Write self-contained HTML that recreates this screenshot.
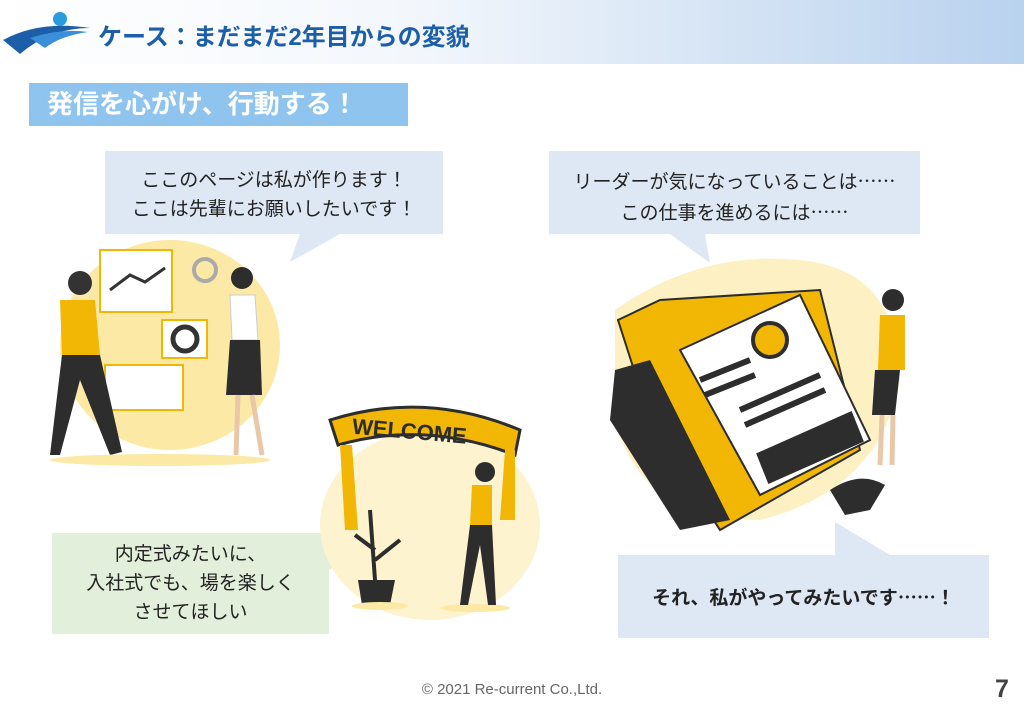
<!DOCTYPE html>
<html><head><meta charset="utf-8"><style>
body{margin:0;width:1024px;height:709px;background:#fff;position:relative;overflow:hidden;font-family:"Liberation Sans","Noto Sans CJK JP",sans-serif}
.hdr{position:absolute;left:0;top:0;width:1024px;height:64px;background:linear-gradient(90deg,#fff 0%,#f3f7fc 40%,#b9d2ee 100%)}
.t{position:absolute;left:98px;top:17px;font-size:24px;font-weight:bold;color:#1d5ea8;white-space:nowrap}
.sub{position:absolute;left:29px;top:83px;width:379px;height:43px;background:#8ec4ee;color:#fff;font-size:26px;font-weight:bold;line-height:43px;padding-left:18px;box-sizing:border-box}
.b{position:absolute;text-align:center;font-size:19px;line-height:29px;color:#222}
.e{font-family:"Noto Sans CJK JP",sans-serif}
.ft{position:absolute;top:681px;left:0;width:1024px;text-align:center;font-size:15px;color:#666}
.pg{position:absolute;left:995px;top:675px;font-size:25px;font-weight:bold;color:#444}
</style></head><body>
<div class="hdr"></div>
<svg style="position:absolute;left:0;top:10px" width="95" height="45"><circle cx="60" cy="9" r="7" fill="#2a9be0"/><path d="M3 30 Q40 10 90 18 Q50 18 20 44 Z" fill="#1d5ea8"/><path d="M30 28 Q60 18 88 22 Q60 26 45 38Z" fill="#3b8fd8"/></svg>
<div class="t">ケース：まだまだ2年目からの変貌</div>
<div class="sub">発信を心がけ、行動する！</div>
<svg style="position:absolute;left:0;top:0" width="1024" height="709">
<g fill="#dde8f4"><rect x="105" y="151" width="338" height="83"/><path d="M300 234 L290 262 L340 234Z"/><rect x="549" y="151" width="371" height="83"/><path d="M670 234 L710 263 L705 234Z"/><rect x="618" y="555" width="371" height="83"/><path d="M835 555 L835 522 L890 555Z"/></g>
<g fill="#e2efda"><rect x="52" y="533" width="277" height="101"/><path d="M329 545 L378 540 L329 570Z"/></g>
<ellipse cx="170" cy="345" rx="110" ry="105" fill="#fde9a6"/>
<rect x="100" y="250" width="72" height="62" fill="#fff" stroke="#f2b705" stroke-width="2"/>
<rect x="162" y="320" width="45" height="38" fill="#fff" stroke="#f2b705" stroke-width="2"/><circle cx="185" cy="339" r="12" fill="none" stroke="#333" stroke-width="5"/>
<rect x="105" y="365" width="78" height="45" fill="#fff" stroke="#f2b705" stroke-width="2"/>
<path d="M110 290 L130 275 L145 282 L165 268" stroke="#333" stroke-width="3" fill="none"/>
<circle cx="205" cy="270" r="11" fill="none" stroke="#aaa" stroke-width="4"/><circle cx="215" cy="395" r="18" fill="none" stroke="#fde9a6" stroke-width="8"/>
<path d="M60 300 L95 300 L100 355 L62 355Z" fill="#f2b705"/><circle cx="80" cy="283" r="12" fill="#333"/>
<path d="M62 355 L50 455 L60 455 L80 380 L110 455 L122 452 L100 355Z" fill="#2d2d2d"/>
<ellipse cx="160" cy="460" rx="110" ry="6" fill="#fde9a6"/>
<circle cx="242" cy="278" r="11" fill="#2d2d2d"/><path d="M230 295 L255 295 L258 340 L232 340Z" fill="#fff" stroke="#ccc"/><path d="M230 340 L260 340 L262 395 L226 395Z" fill="#2d2d2d"/><path d="M238 395 L236 455 M252 395 L262 455" stroke="#e8c8a8" stroke-width="5"/>
<ellipse cx="430" cy="525" rx="110" ry="95" fill="#fdf3cf"/>
<path d="M330 420 Q425 390 520 430 L515 455 Q425 420 338 445Z" fill="#f2b705" stroke="#2d2d2d" stroke-width="3"/>
<text x="352" y="440" font-size="22" font-weight="bold" fill="#2d2d2d" transform="rotate(5 425 432)" font-family="Liberation Sans,sans-serif">WELCOME</text>
<path d="M340 445 L345 530 L358 530 L352 445Z M505 450 L500 520 L515 520 L515 450Z" fill="#f2b705"/>
<path d="M358 580 L395 580 L390 605 L362 605Z" fill="#2d2d2d"/><path d="M375 580 L370 510 M375 560 L400 540 M375 550 L355 535" stroke="#2d2d2d" stroke-width="4"/>
<ellipse cx="380" cy="606" rx="28" ry="4" fill="#fde9a6"/><ellipse cx="475" cy="608" rx="35" ry="4" fill="#fde9a6"/>
<circle cx="485" cy="472" r="10" fill="#2d2d2d"/><path d="M472 485 L492 485 L492 525 L470 525Z" fill="#f2b705"/><path d="M470 525 L460 605 L468 605 L480 545 L488 605 L496 605 L492 525Z" fill="#2d2d2d"/>
<path d="M615 310 Q700 250 800 260 Q900 270 900 380 Q880 490 760 520 Q640 520 615 420Z" fill="#fdf1c4"/>
<path d="M618 320 L660 300 L820 290 L860 450 L720 530 L650 420Z" fill="#f2b705" stroke="#2d2d2d" stroke-width="2"/>
<path d="M615 370 L650 360 L730 520 L680 530 L610 420Z" fill="#2d2d2d"/>
<path d="M680 350 L800 295 L870 440 L760 495Z" fill="#fff" stroke="#2d2d2d" stroke-width="2"/>
<circle cx="770" cy="340" r="17" fill="#f2b705" stroke="#2d2d2d" stroke-width="4"/>
<path d="M700 380 L750 360 M705 395 L755 375 M740 410 L820 375 M745 425 L825 390 M760 455 L850 415 L860 440 L770 480Z" stroke="#2d2d2d" stroke-width="6" fill="#2d2d2d"/>
<circle cx="893" cy="300" r="11" fill="#2d2d2d"/><path d="M880 315 L905 315 L905 370 L878 370Z" fill="#f2b705"/><path d="M875 370 L900 370 L895 415 L872 415Z" fill="#2d2d2d"/><path d="M882 415 L880 465 M893 415 L892 465" stroke="#e8c8a8" stroke-width="5"/>
<path d="M830 490 Q860 470 885 485 L870 510 L845 515Z" fill="#2d2d2d"/>
</svg>
<div class="b" style="left:105px;top:166px;width:338px">ここのページは私が作ります！<br>ここは先輩にお願いしたいです！</div>
<div class="b" style="left:549px;top:166px;width:371px">リーダーが気になっていることは<span class="e">……</span><br>この仕事を進めるには<span class="e">……</span></div>
<div class="b" style="left:52px;top:540px;width:277px">内定式みたいに、<br>入社式でも、場を楽しく<br>させてほしい</div>
<div class="b" style="left:618px;top:582px;width:371px;font-weight:bold">それ、私がやってみたいです<span class="e">……</span>！</div>
<div class="ft">© 2021 Re-current Co.,Ltd.</div>
<div class="pg">7</div>
</body></html>
